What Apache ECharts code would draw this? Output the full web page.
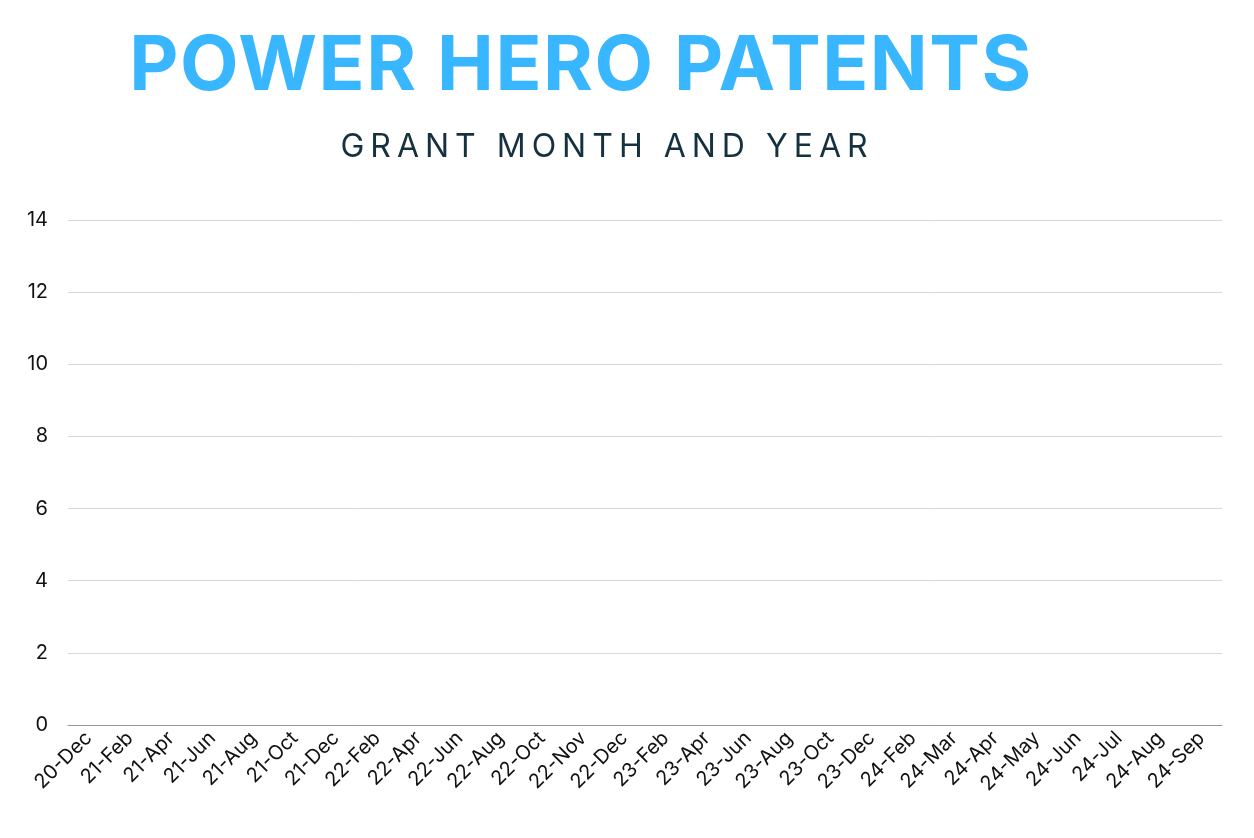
<!DOCTYPE html><html><head><meta charset="utf-8"><script src="https://cdn.jsdelivr.net/npm/echarts@6/dist/echarts.min.js"></script>
<style>html,body{margin:0;background:#fff}#c{width:1254px;height:838px}
#sub{position:absolute;left:-20px;top:126px;width:1254px;text-align:center;font-family:Inter,"Noto Sans",sans-serif;font-size:32px;letter-spacing:6px;color:#15303f}
#ttl{position:absolute;left:-46px;top:16px;width:1254px;text-align:center;font-family:Inter,"Noto Sans",sans-serif;font-size:76px;font-weight:bold;letter-spacing:1.5px;color:#38b6ff}</style></head><body>
<div id="c"></div><div id="ttl">POWER HERO PATENTS</div><div id="sub">GRANT MONTH AND YEAR</div>
<script>
const categories=["20-Dec","21-Feb","21-Apr","21-Jun","21-Aug","21-Oct","21-Dec","22-Feb","22-Apr","22-Jun","22-Aug","22-Oct","22-Nov","22-Dec","23-Feb","23-Apr","23-Jun","23-Aug","23-Oct","23-Dec","24-Feb","24-Mar","24-Apr","24-May","24-Jun","24-Jul","24-Aug","24-Sep"];
const patents=categories.map(()=>0);
const yTicks=[0,2,4,6,8,10,12,14];
const chart=echarts.init(document.getElementById('c'));
chart.setOption({
 animation:false,
 grid:{left:68,right:32,top:220,bottom:113},
 xAxis:{type:'category',data:categories,axisTick:{show:false},axisLine:{lineStyle:{color:'#999'}},
  axisLabel:{rotate:45,interval:0,fontFamily:'Inter',fontSize:20,color:'#111',margin:10}},
 yAxis:{type:'value',min:yTicks[0],max:yTicks[yTicks.length-1],interval:2,axisLabel:{fontFamily:'Inter',fontSize:20,color:'#111',margin:20},
  splitLine:{lineStyle:{color:'#d8d8d8'}}},
 series:[{type:'bar',data:patents,itemStyle:{color:'#38b6ff'}}]
});
</script></body></html>
